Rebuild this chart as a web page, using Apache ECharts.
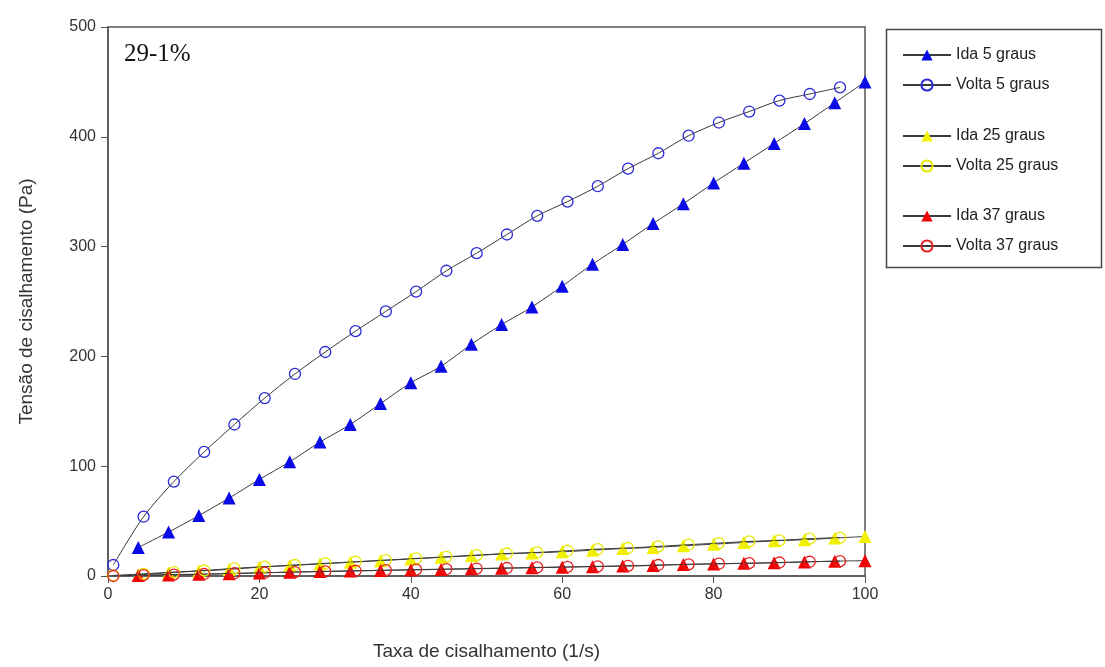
<!DOCTYPE html>
<html>
<head>
<meta charset="utf-8">
<script src="https://cdn.jsdelivr.net/npm/echarts@6/dist/echarts.min.js"></script>
<style>
  html, body { margin: 0; padding: 0; background: #fff; }
  #chart { width: 1105px; height: 667px; }
</style>
</head>
<body>
<div id="chart"></div>
<script>
// shear rate (1/s) for the "ida" (up) and "volta" (down) sweeps
var idaX = [4, 8, 12, 16, 20, 24, 28, 32, 36, 40, 44, 48, 52, 56, 60, 64, 68, 72, 76, 80, 84, 88, 92, 96, 100];
var voltaX = [0.7, 4.7, 8.7, 12.7, 16.7, 20.7, 24.7, 28.7, 32.7, 36.7, 40.7, 44.7, 48.7, 52.7, 56.7, 60.7, 64.7, 68.7, 72.7, 76.7, 80.7, 84.7, 88.7, 92.7, 96.7];

// shear stress (Pa)
var ida5 = [26, 40, 55, 71, 88, 104, 122, 138, 157, 176, 191, 211, 229, 245, 264, 284, 302, 321, 339, 358, 376, 394, 412, 431, 450];
var volta5 = [10, 54, 86, 113, 138, 162, 184, 204, 223, 241, 259, 278, 294, 311, 328, 341, 355, 371, 385, 401, 413, 423, 433, 439, 445];
var ida25 = [1, 3, 4.5, 6, 8, 9.5, 11, 12.5, 14, 15.5, 17, 18.5, 20, 21, 22, 23.5, 25, 26, 27.5, 29, 30.5, 32, 33, 34.5, 36];
var volta25 = [0.5, 2, 3.5, 5, 7, 8.5, 10, 11.5, 13, 14.5, 16, 17.5, 19, 20.5, 21.5, 23, 24.5, 25.5, 27, 28.5, 30, 31.5, 32.5, 34, 35];
var ida37 = [0.5, 1, 1.5, 2, 2.8, 3.5, 4, 4.5, 5, 5.5, 6, 6.5, 7, 7.5, 8, 8.5, 9, 9.5, 10.5, 11, 11.5, 12, 12.8, 13.5, 14];
var volta37 = [0, 0.8, 1.3, 1.8, 2.5, 3, 3.6, 4.2, 4.8, 5.3, 5.8, 6.3, 6.8, 7.3, 7.8, 8.3, 8.8, 9.3, 10, 10.6, 11.2, 11.7, 12.3, 13, 13.5];

var xTicks = [0, 20, 40, 60, 80, 100];
var yTicks = [0, 100, 200, 300, 400, 500];

var names = ['Ida 5 graus', 'Volta 5 graus', 'Ida 25 graus', 'Volta 25 graus', 'Ida 37 graus', 'Volta 37 graus'];

function pairs(xs, ys) {
    var out = [];
    for (var i = 0; i < xs.length; i++) {
        out.push([xs[i], ys[i]]);
    }
    return out;
}

function makeSeries(name, xs, ys, color, filled) {
    return {
        name: name,
        type: 'line',
        smooth: 0.3,
        data: pairs(xs, ys),
        symbol: filled ? 'triangle' : 'circle',
        symbolSize: filled ? 13 : 11,
        showAllSymbol: true,
        lineStyle: { color: '#3a3a3a', width: 1 },
        itemStyle: filled
            ? { color: color, borderWidth: 0 }
            : { color: 'rgba(255,255,255,0)', borderColor: color, borderWidth: 1.3 },
        emphasis: { disabled: true },
        z: filled ? 3 : 4
    };
}

var chart = echarts.init(document.getElementById('chart'));

var legendBase = {
    orient: 'vertical',
    left: 897,
    itemWidth: 48,
    itemHeight: 14,
    itemGap: 14,
    selectedMode: false,
    textStyle: { fontFamily: 'Liberation Sans, Arial', fontSize: 16, color: '#222' }
};

var option = {
    backgroundColor: '#fff',
    animation: false,
    grid: {
        left: 108,
        right: 240,
        top: 27,
        bottom: 91,
        show: true,
        borderColor: '#555',
        borderWidth: 1.5
    },
    legend: [
        Object.assign({}, legendBase, { top: 42, data: names.slice(0, 2) }),
        Object.assign({}, legendBase, { top: 123, data: names.slice(2, 4) }),
        Object.assign({}, legendBase, { top: 203, data: names.slice(4, 6) })
    ],
    graphic: [
        {
            type: 'rect',
            left: 884,
            top: 27,
            shape: { width: 215, height: 238 },
            style: { fill: 'none', stroke: '#444', lineWidth: 1.5 }
        },
        {
            type: 'text',
            left: 124,
            top: 42,
            style: {
                text: '29-1%',
                font: '25px "Liberation Serif", "Times New Roman", serif',
                fill: '#111'
            }
        }
    ],
    xAxis: {
        type: 'value',
        min: xTicks[0],
        max: xTicks[xTicks.length - 1],
        interval: 20,
        name: 'Taxa de cisalhamento (1/s)',
        nameLocation: 'middle',
        nameGap: 66,
        nameTextStyle: { fontFamily: 'Liberation Sans, Arial', fontSize: 19, color: '#333' },
        axisLine: { show: true, lineStyle: { color: '#555', width: 1.5 } },
        axisTick: { show: true, inside: false, length: 7, lineStyle: { color: '#555' } },
        axisLabel: { fontFamily: 'Liberation Sans, Arial', fontSize: 16, color: '#333', margin: 11 },
        splitLine: { show: false }
    },
    yAxis: {
        type: 'value',
        min: yTicks[0],
        max: yTicks[yTicks.length - 1],
        interval: 100,
        name: 'Tensão de cisalhamento (Pa)',
        nameLocation: 'middle',
        nameGap: 72,
        nameTextStyle: { fontFamily: 'Liberation Sans, Arial', fontSize: 19, color: '#333' },
        axisLine: { show: true, lineStyle: { color: '#555', width: 1.5 } },
        axisTick: { show: true, inside: false, length: 7, lineStyle: { color: '#555' } },
        axisLabel: { fontFamily: 'Liberation Sans, Arial', fontSize: 16, color: '#333', margin: 12 },
        splitLine: { show: false }
    },
    series: [
        makeSeries(names[0], idaX, ida5, '#0a0ae6', true),
        makeSeries(names[1], voltaX, volta5, '#2a2ad8', false),
        makeSeries(names[2], idaX, ida25, '#f2f200', true),
        makeSeries(names[3], voltaX, volta25, '#e8e800', false),
        makeSeries(names[4], idaX, ida37, '#f00000', true),
        makeSeries(names[5], voltaX, volta37, '#e82020', false)
    ]
};

chart.setOption(option);
</script>
</body>
</html>
